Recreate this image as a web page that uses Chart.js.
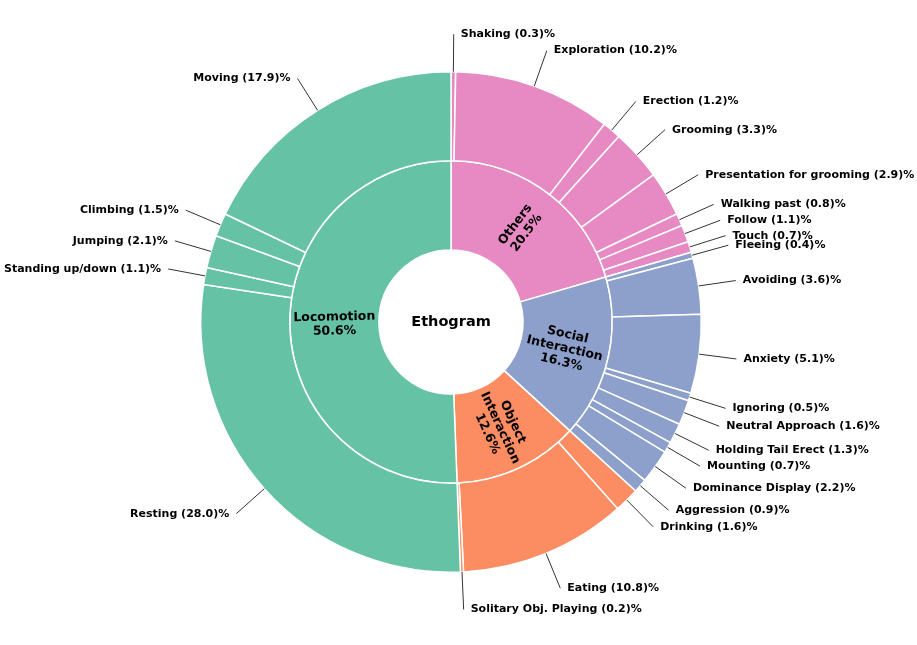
<!DOCTYPE html>
<html>
<head>
<meta charset="utf-8">
<script src="https://cdn.jsdelivr.net/npm/chart.js@4.4.0/dist/chart.umd.min.js"></script>
<style>
  html, body { margin: 0; padding: 0; background: #fff; }
  #wrap { width: 917px; height: 645px; }
</style>
</head>
<body>
<div id="wrap"><canvas id="ethogram" width="917" height="645"></canvas></div>
<script>
'use strict'

// inner ring, clockwise from 12 o'clock
const categories = ['Others', 'Social Interaction', 'Object Interaction', 'Locomotion'];
const categoryValues = [20.5, 16.3, 12.6, 50.6];

// outer ring, same order
const behaviours = [
  'Shaking', 'Exploration', 'Erection', 'Grooming', 'Presentation for grooming',
  'Walking past', 'Follow', 'Touch',
  'Fleeing', 'Avoiding', 'Anxiety', 'Ignoring', 'Neutral Approach',
  'Holding Tail Erect', 'Mounting', 'Dominance Display', 'Aggression',
  'Drinking', 'Eating', 'Solitary Obj. Playing',
  'Resting', 'Standing up/down', 'Jumping', 'Climbing', 'Moving'
];
const behaviourValues = [
  0.3, 10.2, 1.2, 3.3, 2.9, 0.8, 1.1, 0.7,
  0.4, 3.6, 5.1, 0.5, 1.6, 1.3, 0.7, 2.2, 0.9,
  1.6, 10.8, 0.2,
  28.0, 1.1, 2.1, 1.5, 17.9
];
const behaviourGroup = [
  0, 0, 0, 0, 0, 0, 0, 0,
  1, 1, 1, 1, 1, 1, 1, 1, 1,
  2, 2, 2,
  3, 3, 3, 3, 3
];

const palette = ['#e78ac3', '#8da0cb', '#fc8d62', '#66c2a5'];
const FONT = "'DejaVu Sans', 'Liberation Sans', sans-serif";

// leader lines, labels and centre title
const sunburstLabels = {
  id: 'sunburstLabels',
  afterDraw(chart) {
    const ctx = chart.ctx;
    ctx.save();

    // outer labels
    const outer = chart.getDatasetMeta(0).data;
    ctx.font = 'bold 11px ' + FONT;
    ctx.textBaseline = 'middle';
    outer.forEach((arc, i) => {
      const p = arc.getProps(['x', 'y', 'startAngle', 'endAngle', 'outerRadius']);
      const a = (p.startAngle + p.endAngle) / 2;
      const x0 = p.x + p.outerRadius * Math.cos(a);
      const y0 = p.y + p.outerRadius * Math.sin(a);
      const x1 = p.x + p.outerRadius * 1.15 * Math.cos(a);
      const y1 = p.y + p.outerRadius * 1.15 * Math.sin(a);
      ctx.strokeStyle = '#333';
      ctx.lineWidth = 1;
      ctx.beginPath();
      ctx.moveTo(x0, y0);
      ctx.lineTo(x1, y1);
      ctx.stroke();
      const right = x1 >= p.x;
      ctx.textAlign = right ? 'left' : 'right';
      ctx.fillStyle = '#000';
      const txt = behaviours[i] + ' (' + behaviourValues[i].toFixed(1) + ')%';
      ctx.fillText(txt, x1 + (right ? 7 : -7), y1);
    });

    // inner labels, rotated along the radius
    const inner = chart.getDatasetMeta(1).data;
    ctx.font = 'bold 12.5px ' + FONT;
    ctx.textAlign = 'center';
    inner.forEach((arc, i) => {
      const p = arc.getProps(['x', 'y', 'startAngle', 'endAngle', 'innerRadius', 'outerRadius']);
      const a = (p.startAngle + p.endAngle) / 2;
      const r = (p.innerRadius + p.outerRadius) / 2;
      let rot = a;
      if (Math.cos(a) < 0) rot += Math.PI;
      const lines = categories[i].split(' ').concat([categoryValues[i].toFixed(1) + '%']);
      ctx.save();
      ctx.translate(p.x + r * Math.cos(a), p.y + r * Math.sin(a));
      ctx.rotate(rot);
      const lh = 14;
      lines.forEach((l, k) => {
        ctx.fillText(l, 0, (k - (lines.length - 1) / 2) * lh);
      });
      ctx.restore();
    });

    // title in the hole
    const c = inner[0].getProps(['x', 'y']);
    ctx.font = 'bold 14.5px ' + FONT;
    ctx.fillText('Ethogram', c.x, c.y);
    ctx.restore();
  }
};

const data = {
  labels: behaviours,
  datasets: [
    {
      label: 'Behaviour',
      data: behaviourValues,
      backgroundColor: behaviourGroup.map(g => palette[g]),
      borderColor: '#fff',
      borderWidth: 1.5
    },
    {
      label: 'Category',
      data: categoryValues,
      backgroundColor: palette,
      borderColor: '#fff',
      borderWidth: 1.5
    }
  ]
};

const config = {
  type: 'doughnut',
  data: data,
  options: {
    responsive: false,
    animation: false,
    cutout: '28.8%',
    layout: { padding: { left: 199, right: 214, top: 71, bottom: 72 } },
    plugins: {
      legend: { display: false },
      tooltip: { enabled: false }
    }
  },
  plugins: [sunburstLabels]
};

const chart = new Chart(document.querySelector('#ethogram'), config);
</script>
</body>
</html>
